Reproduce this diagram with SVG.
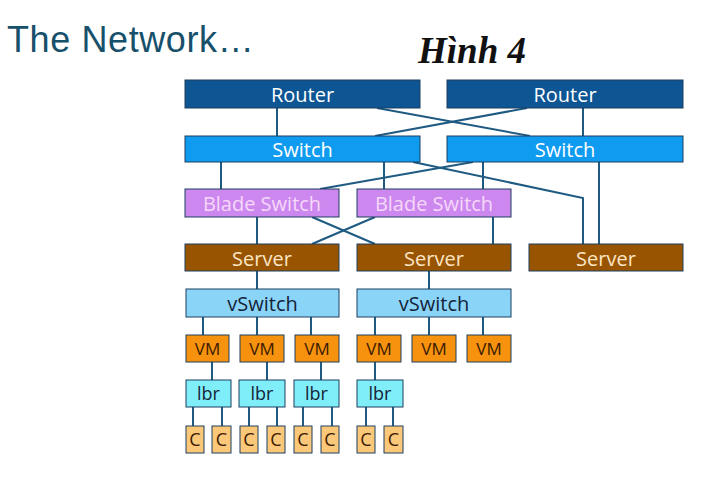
<svg xmlns="http://www.w3.org/2000/svg" width="706" height="479" viewBox="0 0 706 479">
<style>
.n{stroke:#1c3f5e;stroke-width:1}
.t{font-family:"Open Sans","Lato","Liberation Sans",sans-serif;font-size:20px;text-anchor:middle}
.ts{font-size:17px}
.tm{font-size:18px}
.router{fill:#0d5593}
.switch{fill:#0f9bf0}
.blade{fill:#cc88ee}
.server{fill:#985400}
.vsw{fill:#8ad4f8}
.vm{fill:#f7920f}
.lbr{fill:#80eef8}
.c{fill:#fbc87a}
.lt{fill:#ffffff}
.lb{fill:#f6d8fa}
.ls{fill:#fde6c6}
.dk{fill:#142438}
.dv{fill:#3a1a00}
#conn line,#conn polyline{stroke:#1f5a82;stroke-width:2;fill:none}
</style>
<rect width="706" height="479" fill="#ffffff"/>
<text x="7" y="52" font-family="Liberation Sans,Arial,sans-serif" font-size="36" letter-spacing="0.6" fill="#17506a">The Network…</text>
<text x="418" y="63" font-family="Liberation Serif,Times New Roman,serif" font-size="37" font-weight="bold" font-style="italic" fill="#111">Hình 4</text>
<g id="conn">
<line x1="277" y1="108" x2="277" y2="136"/>
<line x1="583" y1="108" x2="583" y2="136"/>
<line x1="377" y1="108" x2="530" y2="136"/>
<line x1="527" y1="108" x2="375" y2="136"/>
<line x1="221" y1="162" x2="221" y2="189"/>
<line x1="384" y1="162" x2="384" y2="189"/>
<line x1="483" y1="162" x2="483" y2="189"/>
<line x1="473" y1="162" x2="320" y2="189"/>
<polyline points="413,162 583,198 583,244"/>
<line x1="599" y1="162" x2="599" y2="244"/>
<line x1="257" y1="217" x2="257" y2="244"/>
<line x1="312" y1="217" x2="375" y2="244"/>
<line x1="375" y1="217" x2="312" y2="244"/>
<line x1="493" y1="217" x2="493" y2="244"/>
<line x1="257" y1="271" x2="257" y2="289"/>
<line x1="429" y1="271" x2="429" y2="289"/>
<line x1="203" y1="317" x2="203" y2="335"/>
<line x1="257" y1="317" x2="257" y2="335"/>
<line x1="311" y1="317" x2="311" y2="335"/>
<line x1="375" y1="317" x2="375" y2="335"/>
<line x1="429" y1="317" x2="429" y2="335"/>
<line x1="483" y1="317" x2="483" y2="335"/>
<line x1="212" y1="362" x2="212" y2="380"/>
<line x1="267" y1="362" x2="267" y2="380"/>
<line x1="321" y1="362" x2="321" y2="380"/>
<line x1="375" y1="362" x2="375" y2="380"/>
<line x1="193" y1="407" x2="193" y2="426"/>
<line x1="222" y1="407" x2="222" y2="426"/>
<line x1="249" y1="407" x2="249" y2="426"/>
<line x1="277" y1="407" x2="277" y2="426"/>
<line x1="303" y1="407" x2="303" y2="426"/>
<line x1="332" y1="407" x2="332" y2="426"/>
<line x1="366" y1="407" x2="366" y2="426"/>
<line x1="393" y1="407" x2="393" y2="426"/>
</g>
<g id="router1"><rect class="n router" x="185" y="80" width="235" height="28"/><text class="t lt" x="302.5" y="102">Router</text></g>
<g id="router2"><rect class="n router" x="447" y="80" width="236" height="28"/><text class="t lt" x="565" y="102">Router</text></g>
<g id="switch1"><rect class="n switch" x="185" y="136" width="235" height="26"/><text class="t lt" x="302.5" y="157">Switch</text></g>
<g id="switch2"><rect class="n switch" x="447" y="136" width="236" height="26"/><text class="t lt" x="565" y="157">Switch</text></g>
<g id="blade1"><rect class="n blade" x="185" y="189" width="154" height="28"/><text class="t lb" x="262" y="211">Blade Switch</text></g>
<g id="blade2"><rect class="n blade" x="357" y="189" width="154" height="28"/><text class="t lb" x="434" y="211">Blade Switch</text></g>
<g id="server1"><rect class="n server" x="185" y="244" width="154" height="27"/><text class="t ls" x="262" y="266">Server</text></g>
<g id="server2"><rect class="n server" x="357" y="244" width="154" height="27"/><text class="t ls" x="434" y="266">Server</text></g>
<g id="server3"><rect class="n server" x="529" y="244" width="154" height="27"/><text class="t ls" x="606" y="266">Server</text></g>
<g id="vswitch1"><rect class="n vsw" x="186" y="289" width="153" height="28"/><text class="t dk" x="262.5" y="311">vSwitch</text></g>
<g id="vswitch2"><rect class="n vsw" x="357" y="289" width="154" height="28"/><text class="t dk" x="434" y="311">vSwitch</text></g>
<g id="vm1"><rect class="n vm" x="186" y="335" width="43" height="27"/><text class="t ts dv" x="207.5" y="355">VM</text></g>
<g id="vm2"><rect class="n vm" x="240" y="335" width="44" height="27"/><text class="t ts dv" x="262" y="355">VM</text></g>
<g id="vm3"><rect class="n vm" x="295" y="335" width="44" height="27"/><text class="t ts dv" x="317" y="355">VM</text></g>
<g id="vm4"><rect class="n vm" x="357" y="335" width="44" height="27"/><text class="t ts dv" x="379" y="355">VM</text></g>
<g id="vm5"><rect class="n vm" x="412" y="335" width="44" height="27"/><text class="t ts dv" x="434" y="355">VM</text></g>
<g id="vm6"><rect class="n vm" x="467" y="335" width="44" height="27"/><text class="t ts dv" x="489" y="355">VM</text></g>
<g id="lbr1"><rect class="n lbr" x="186" y="380" width="45" height="27"/><text class="t tm dk" x="208.5" y="400">lbr</text></g>
<g id="lbr2"><rect class="n lbr" x="239" y="380" width="46" height="27"/><text class="t tm dk" x="262" y="400">lbr</text></g>
<g id="lbr3"><rect class="n lbr" x="294" y="380" width="45" height="27"/><text class="t tm dk" x="316.5" y="400">lbr</text></g>
<g id="lbr4"><rect class="n lbr" x="357" y="380" width="46" height="27"/><text class="t tm dk" x="380" y="400">lbr</text></g>
<g id="c1"><rect class="n c" x="186" y="426" width="18" height="27"/><text class="t tm dv" x="195" y="446">C</text></g>
<g id="c2"><rect class="n c" x="212" y="426" width="19" height="27"/><text class="t tm dv" x="221.5" y="446">C</text></g>
<g id="c3"><rect class="n c" x="240" y="426" width="18" height="27"/><text class="t tm dv" x="249" y="446">C</text></g>
<g id="c4"><rect class="n c" x="267" y="426" width="18" height="27"/><text class="t tm dv" x="276" y="446">C</text></g>
<g id="c5"><rect class="n c" x="294" y="426" width="18" height="27"/><text class="t tm dv" x="303" y="446">C</text></g>
<g id="c6"><rect class="n c" x="321" y="426" width="18" height="27"/><text class="t tm dv" x="330" y="446">C</text></g>
<g id="c7"><rect class="n c" x="357" y="426" width="18" height="27"/><text class="t tm dv" x="366" y="446">C</text></g>
<g id="c8"><rect class="n c" x="384" y="426" width="19" height="27"/><text class="t tm dv" x="393.5" y="446">C</text></g>
</svg>
